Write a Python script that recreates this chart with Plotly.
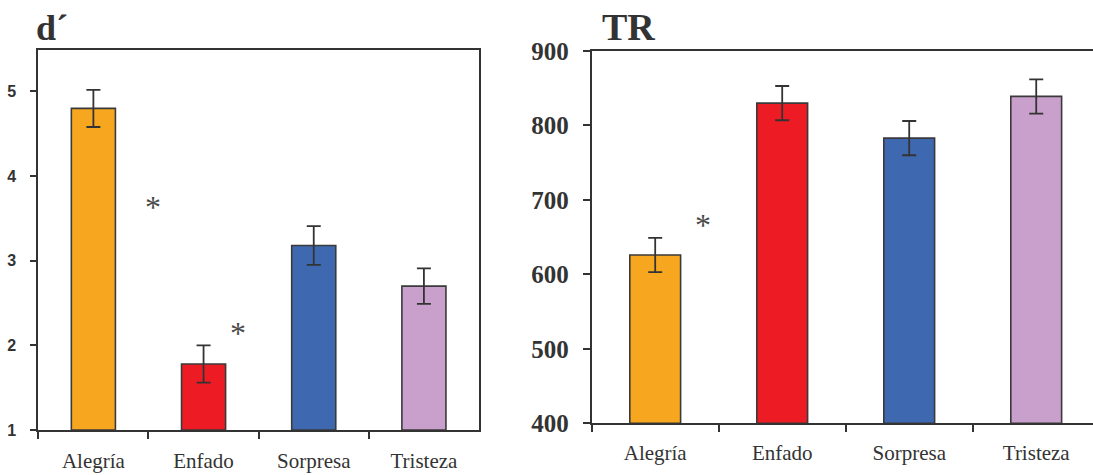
import plotly.graph_objects as go

# Emotion categories and per-condition results
categories = ["Alegría", "Enfado", "Sorpresa", "Tristeza"]
bar_colors = ["#F6A71F", "#ED1C24", "#3E69B1", "#C9A0CB"]

# Sensitivity (d') means and standard errors
dprime_mean = [4.80, 1.78, 3.18, 2.70]
dprime_err = [0.22, 0.22, 0.23, 0.21]

# Reaction time (TR, ms) means and standard errors
tr_mean = [626, 830, 783, 839]
tr_err = [23, 23, 23, 23]

# Significance markers: (x position in category units, y value)
dprime_stars = [(0.54, 3.68), (1.31, 2.19)]
tr_stars = [(0.38, 671)]

INK = "#333333"
SERIF = "Liberation Serif, Times New Roman, serif"
SANS = "Liberation Sans, Arial, sans-serif"

fig = go.Figure()

fig.add_trace(go.Bar(
    x=categories, y=[v - 1 for v in dprime_mean], base=1,
    marker=dict(color=bar_colors, line=dict(color="#3A3A3A", width=1.6)),
    width=0.4,
    error_y=dict(type="data", array=dprime_err, color=INK, thickness=1.8, width=7),
    xaxis="x", yaxis="y", showlegend=False,
))

fig.add_trace(go.Bar(
    x=categories, y=[v - 400 for v in tr_mean], base=400,
    marker=dict(color=bar_colors, line=dict(color="#3A3A3A", width=1.6)),
    width=0.4,
    error_y=dict(type="data", array=tr_err, color=INK, thickness=1.8, width=7),
    xaxis="x2", yaxis="y2", showlegend=False,
))

cat_font = dict(family=SERIF, size=21, color=INK)

fig.update_layout(
    width=1093, height=475,
    margin=dict(l=0, r=0, t=0, b=0),
    paper_bgcolor="white", plot_bgcolor="white",
    template="none",
    xaxis=dict(
        domain=[0.03504, 0.43824], anchor="y",
        type="category", categoryorder="array", categoryarray=categories,
        range=[-0.5, 3.5], tickson="boundaries",
        ticks="outside", ticklen=7, tickwidth=1.5, tickcolor=INK,
        showline=True, linecolor=INK, linewidth=2, mirror=True,
        showgrid=False, zeroline=False, automargin=False,
        tickfont=cat_font, ticklabelstandoff=11,
    ),
    yaxis=dict(
        domain=[0.09474, 0.89474], anchor="x",
        range=[1, 5.49], tickvals=[1, 2, 3, 4, 5],
        ticks="outside", ticklen=6, tickwidth=1.5, tickcolor=INK,
        showline=True, linecolor=INK, linewidth=2, mirror=True,
        showgrid=False, zeroline=False, automargin=False,
        tickfont=dict(family=SANS, size=16, color=INK, weight="bold"),
        ticklabelstandoff=11,
    ),
    xaxis2=dict(
        domain=[0.54135, 1.0], anchor="y2",
        type="category", categoryorder="array", categoryarray=categories,
        range=[-0.5, 3.447], tickson="boundaries",
        ticks="outside", ticklen=7, tickwidth=1.5, tickcolor=INK,
        showline=True, linecolor=INK, linewidth=2, mirror=True,
        showgrid=False, zeroline=False, automargin=False,
        tickfont=cat_font, ticklabelstandoff=9,
    ),
    yaxis2=dict(
        domain=[0.10884, 0.89263], anchor="x2",
        range=[400, 900], tickvals=[400, 500, 600, 700, 800, 900],
        ticks="outside", ticklen=7, tickwidth=1.5, tickcolor=INK,
        showline=True, linecolor=INK, linewidth=2, mirror=False,
        showgrid=False, zeroline=False, automargin=False,
        tickfont=dict(family=SERIF, size=25, color=INK, weight="bold"),
        ticklabelstandoff=9,
    ),
    bargap=0.6,
)

annotations = [
    dict(text="d´", xref="paper", yref="paper", x=34 / 1093, y=1 - 28 / 475,
         xanchor="left", yanchor="middle", showarrow=False,
         font=dict(family=SERIF, size=36, color=INK, weight="bold")),
    dict(text="TR", xref="paper", yref="paper", x=600 / 1093, y=1 - 27 / 475,
         xanchor="left", yanchor="middle", showarrow=False,
         font=dict(family=SERIF, size=38, color=INK, weight="bold")),
]
star_font = dict(family=SERIF, size=32, color="#4A4A4A")
for sx, sy in dprime_stars:
    annotations.append(dict(text="*", x=sx, y=sy, xref="x", yref="y",
                            showarrow=False, yshift=-4, font=star_font))
for sx, sy in tr_stars:
    annotations.append(dict(text="*", x=sx, y=sy, xref="x2", yref="y2",
                            showarrow=False, yshift=-3, font=star_font))
fig.update_layout(annotations=annotations)

fig.write_html("out.html")
